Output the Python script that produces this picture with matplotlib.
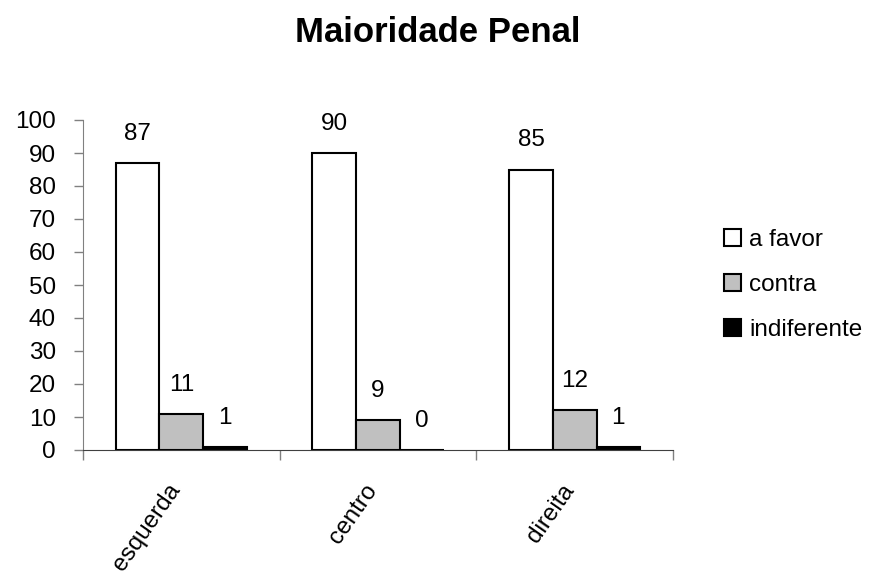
import numpy as np
from matplotlib import pyplot as plt
from matplotlib import transforms

plt.rcParams['font.family'] = ['Liberation Sans', 'DejaVu Sans']

categories = ["esquerda", "centro", "direita"]
series_names = ["a favor", "contra", "indiferente"]
a_favor = [87, 90, 85]
contra = [11, 9, 12]
indiferente = [1, 0, 1]

colors = ["#ffffff", "#c0c0c0", "#000000"]

fig = plt.figure(figsize=(8.76, 5.88), dpi=100)
ax = fig.add_axes([83 / 876, 1 - 450 / 588, 590 / 876, 330 / 588])

x = np.arange(len(categories))
width = 1 / 4.5
values = [a_favor, contra, indiferente]
handles = []
for i, (name, vals, col) in enumerate(zip(series_names, values, colors)):
    pos = x + (i - 1) * width
    bars = ax.bar(pos, vals, width, color=col, edgecolor="black",
                  linewidth=1.5, label=name)
    handles.append(bars)
    for xp, v in zip(pos, vals):
        ax.annotate(str(v), (xp, v), xytext=(0, 21), textcoords="offset points",
                    ha="center", va="center", fontsize=17.5)

ax.set_xlim(-0.5, len(categories) - 0.5)
ax.set_ylim(0, 100)
ax.set_yticks(np.arange(0, 101, 10))
ax.tick_params(axis="y", labelsize=17.5, length=6.5, width=1, direction="out",
               pad=13, colors="#808080", labelcolor="black")

# category boundary ticks, labels at category centres
ax.set_xticks(np.arange(-0.5, len(categories), 1))
ax.set_xticklabels([])
ax.set_xticks(x, minor=True)
ax.set_xticklabels(categories, minor=True, rotation=55, ha="right",
                   va="center", rotation_mode="anchor", fontsize=17.5)
ax.tick_params(axis="x", which="major", length=7, width=1, colors="#808080")
ax.tick_params(axis="x", which="minor", length=0, pad=26)
shift = transforms.ScaledTranslation(-5 / 100, 0, fig.dpi_scale_trans)
for lbl in ax.get_xticklabels(minor=True):
    lbl.set_transform(lbl.get_transform() + shift)

for side in ["top", "right"]:
    ax.spines[side].set_visible(False)
ax.spines["left"].set_color("#808080")
ax.spines["bottom"].set_color("#404040")

fig.suptitle("Maioridade Penal", x=0.5, y=1 - 32 / 588, va="center",
             fontsize=25, fontweight="bold")

fig.legend(handles=handles, labels=series_names, loc="center left",
           bbox_to_anchor=(702 / 876, 1 - 285 / 588), frameon=False,
           fontsize=17.5, handlelength=0.7, handleheight=0.7,
           handletextpad=0.35, labelspacing=0.95)

plt.savefig("out.png", dpi=100)
